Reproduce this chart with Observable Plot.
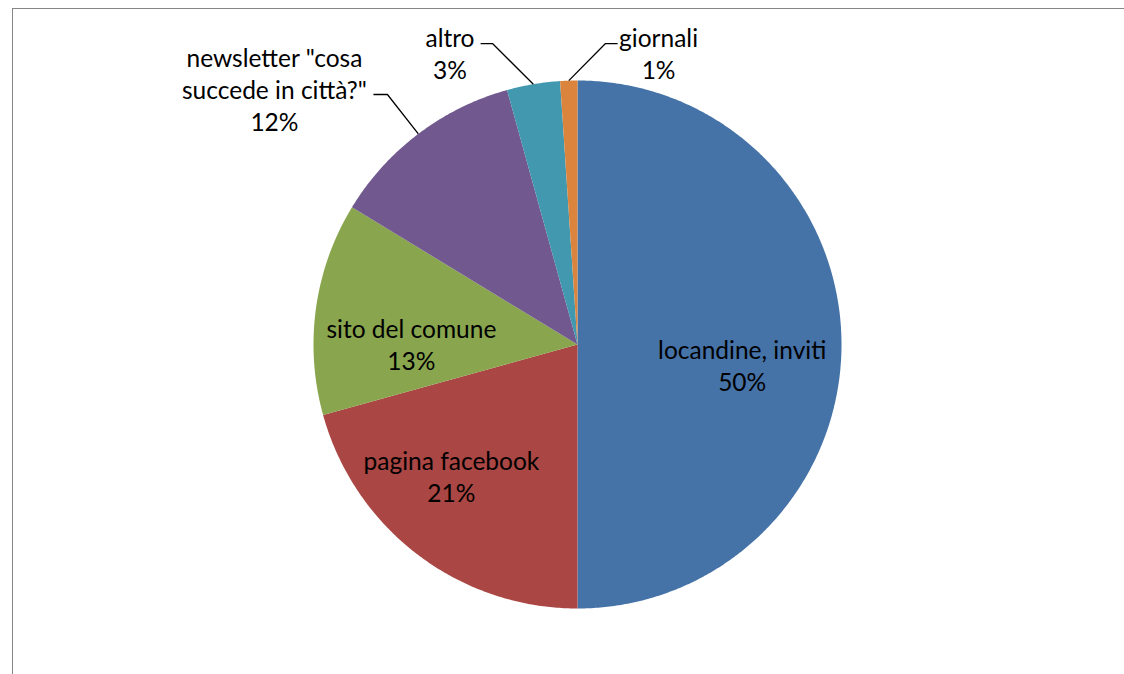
<!DOCTYPE html>
<html>
<head>
<meta charset="utf-8">
<script src="https://cdn.jsdelivr.net/npm/d3@7"></script>
<script src="https://cdn.jsdelivr.net/npm/@observablehq/plot@0.6"></script>
<style>
  html, body { margin: 0; padding: 0; background: #ffffff; }
  #wrap { position: relative; width: 1124px; height: 674px; overflow: hidden; }
  #wrap svg { position: absolute; left: 0; top: 0; }
  #frame { position: absolute; left: 12px; top: 8px; right: -4px; bottom: -4px;
           border-left: 1px solid #868686; border-top: 1px solid #868686; pointer-events: none; }
</style>
</head>
<body>
<div id="wrap"><div id="frame"></div></div>
<script>
// ---- data ----
const categories = ["locandine, inviti", "pagina facebook", "sito del comune",
                    "newsletter \"cosa succede in città?\"", "altro", "giornali"];
const displayNames = ["locandine, inviti", "pagina facebook", "sito del comune",
                      "newsletter \"cosa\nsuccede in città?\"", "altro", "giornali"];
const values = [50, 20.7, 13, 12, 3.25, 1.05];

// ---- style / layout (not data) ----
const colors = ["#4572A7", "#AA4643", "#89A54E", "#71588F", "#4198AF", "#DB843D"];
const insideRadius = 0.62;
const insideNudge = [[1, 20], [-27, 1], [-4, 22], null, null, null]; // px
// outside labels: label centre, elbow and end of horizontal leader (chart units, radius = 1)
const outsideLayout = [null, null, null,
  {label: [-1.148, 0.967], elbow: [-0.720, 0.947], end: [-0.773, 0.947]},
  {label: [-0.483, 1.104], elbow: [-0.322, 1.140], end: [-0.367, 1.140]},
  {label: [ 0.307, 1.104], elbow: [ 0.106, 1.140], end: [ 0.152, 1.140]}];

const rows = categories.map((c, i) => ({category: c, name: displayNames[i], value: values[i], i}));
const total = d3.sum(values);
const arcs = d3.pie().sort(null).value(d => d.value)(rows);

// slice polygons
const slicePts = [];
for (const a of arcs) {
  const cat = a.data.category;
  slicePts.push({category: cat, x: 0, y: 0});
  const n = Math.max(4, Math.ceil((a.endAngle - a.startAngle) / (Math.PI / 360)));
  for (let k = 0; k <= n; k++) {
    const t = a.startAngle + (a.endAngle - a.startAngle) * k / n;
    slicePts.push({category: cat, x: Math.sin(t), y: Math.cos(t)});
  }
}

// labels & leaders
const insideLabels = [], outsideLabels = [], leaders = [];
for (const a of arcs) {
  const d = a.data;
  const mid = (a.startAngle + a.endAngle) / 2;
  const text = d.name + "\n" + Math.round(d.value / total * 100) + "%";
  if (insideNudge[d.i]) {
    insideLabels.push({x: Math.sin(mid) * insideRadius, y: Math.cos(mid) * insideRadius,
                       dx: insideNudge[d.i][0], dy: insideNudge[d.i][1], text});
  } else {
    const L = outsideLayout[d.i];
    outsideLabels.push({x: L.label[0], y: L.label[1], text});
    leaders.push({category: d.category, x: Math.sin(mid), y: Math.cos(mid)});
    leaders.push({category: d.category, x: L.elbow[0], y: L.elbow[1]});
    leaders.push({category: d.category, x: L.end[0], y: L.end[1]});
  }
}

const fontSize = 24.5;
const chart = Plot.plot({
  width: 1124,
  height: 674,
  marginLeft: 313,
  marginRight: 283,
  marginTop: 80,
  marginBottom: 66,
  x: {domain: [-1, 1], axis: null},
  y: {domain: [-1, 1], axis: null},
  color: {domain: categories, range: colors},
  style: {fontFamily: "Lato, 'Open Sans', sans-serif", background: "transparent", overflow: "visible"},
  marks: [
    Plot.line(slicePts, {x: "x", y: "y", z: "category", fill: "category", stroke: null, curve: "linear-closed"}),
    Plot.line(leaders, {x: "x", y: "y", z: "category", stroke: "#000", strokeWidth: 1.3, strokeLinecap: "butt"}),
    Plot.text(insideLabels, {x: "x", y: "y", text: "text", fontSize, lineHeight: 32 / fontSize,
      lineAnchor: "middle", textAnchor: "middle", fill: "#000"}),
    Plot.text(outsideLabels, {x: "x", y: "y", text: "text", fontSize, lineHeight: 32 / fontSize,
      lineAnchor: "middle", textAnchor: "middle", fill: "#000"})
  ]
});
document.getElementById("wrap").appendChild(chart);
// apply per-label pixel nudges to inside labels
d3.select(chart).selectAll("g[aria-label='text']").filter((d, i) => i === 0)
  .selectAll("text").each(function(_, j) {
    const n = insideLabels[j];
    const tr = this.getAttribute("transform") || "";
    this.setAttribute("transform", tr + ` translate(${n.dx},${n.dy})`);
  });
</script>
</body>
</html>
